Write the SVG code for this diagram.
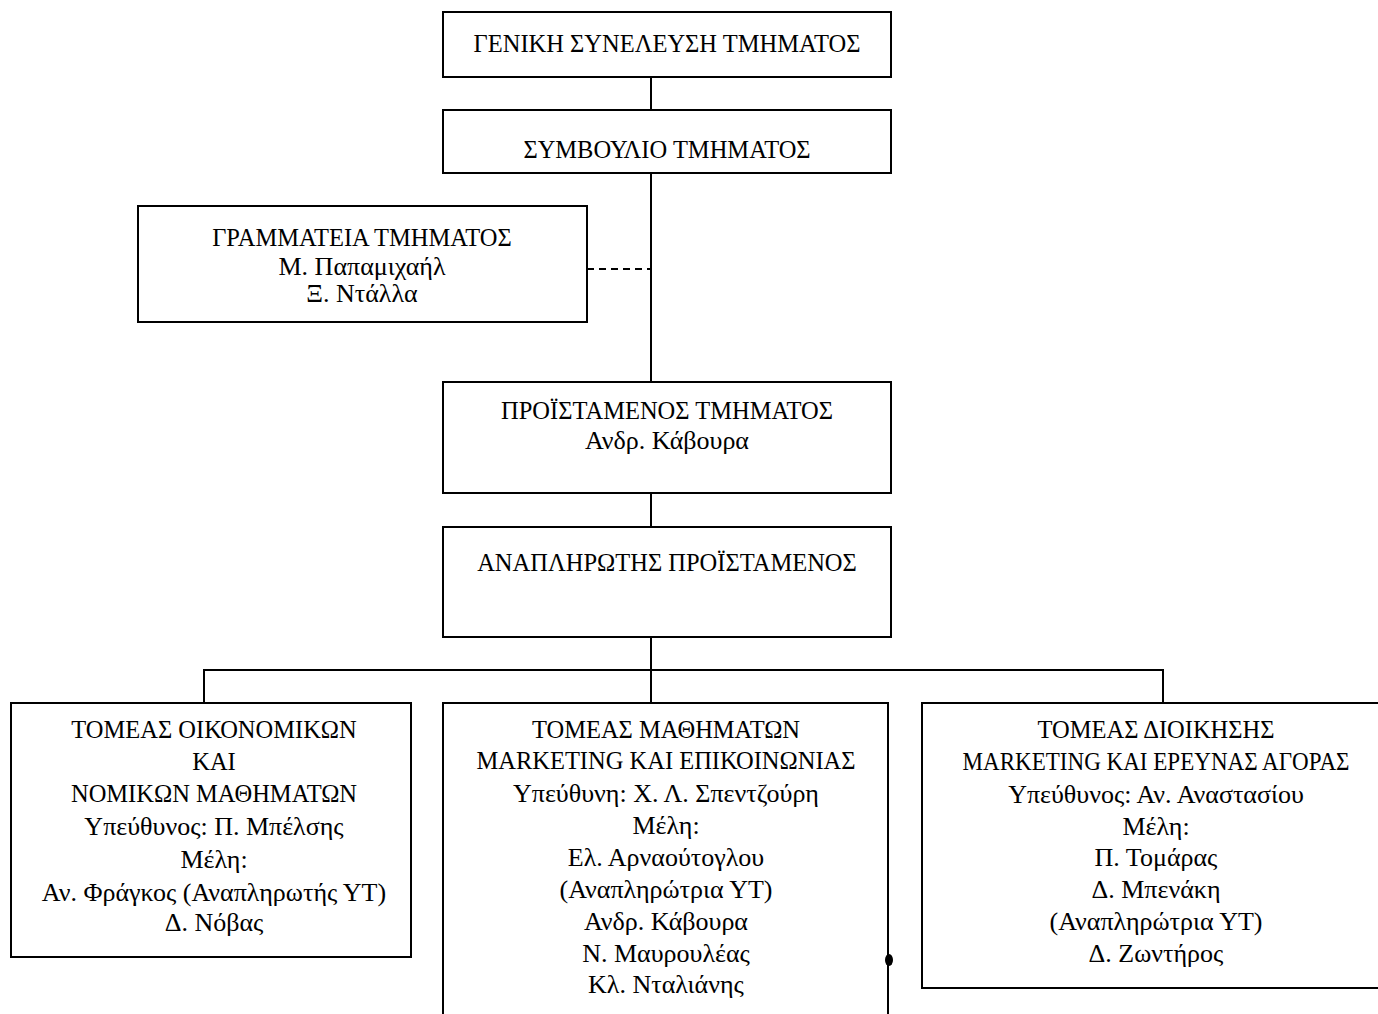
<svg xmlns="http://www.w3.org/2000/svg" width="1378" height="1014" viewBox="0 0 1378 1014">
<style>
.box{fill:#fff;stroke:#000;stroke-width:2}
.ln{fill:none;stroke:#000;stroke-width:2}
.dash{fill:none;stroke:#000;stroke-width:2;stroke-dasharray:7,5}
text{font-family:"Liberation Serif","Times New Roman",serif;font-size:24.5px;fill:#000;text-anchor:middle}
.lc{font-size:26px}
</style>
<rect width="1378" height="1014" fill="#fff"/>
<g id="connectors">
<line class="ln" x1="651" y1="77" x2="651" y2="110"/>
<line class="ln" x1="651" y1="173" x2="651" y2="382"/>
<line class="dash" x1="587" y1="269" x2="651" y2="269"/>
<line class="ln" x1="651" y1="493" x2="651" y2="527"/>
<line class="ln" x1="651" y1="637" x2="651" y2="703"/>
<polyline class="ln" points="204,703 204,670 1163,670 1163,703"/>
</g>
<g id="n1">
<rect class="box" x="443" y="12" width="448" height="65"/>
<text x="667" y="52">ΓΕΝΙΚΗ ΣΥΝΕΛΕΥΣΗ ΤΜΗΜΑΤΟΣ</text>
</g>
<g id="n2">
<rect class="box" x="443" y="110" width="448" height="63"/>
<text x="667" y="158">ΣΥΜΒΟΥΛΙΟ ΤΜΗΜΑΤΟΣ</text>
</g>
<g id="n3">
<rect class="box" x="138" y="206" width="449" height="116"/>
<text x="362" y="246">ΓΡΑΜΜΑΤΕΙΑ ΤΜΗΜΑΤΟΣ</text>
<text class="lc" x="362" y="275">Μ. Παπαμιχαήλ</text>
<text class="lc" x="362" y="302">Ξ. Ντάλλα</text>
</g>
<g id="n4">
<rect class="box" x="443" y="382" width="448" height="111"/>
<text x="667" y="419">ΠΡΟΪΣΤΑΜΕΝΟΣ ΤΜΗΜΑΤΟΣ</text>
<text class="lc" x="667" y="449">Ανδρ. Κάβουρα</text>
</g>
<g id="n5">
<rect class="box" x="443" y="527" width="448" height="110"/>
<text x="667" y="571">ΑΝΑΠΛΗΡΩΤΗΣ ΠΡΟΪΣΤΑΜΕΝΟΣ</text>
</g>
<g id="n6">
<rect class="box" x="11" y="703" width="400" height="254"/>
<text x="214" y="738">ΤΟΜΕΑΣ ΟΙΚΟΝΟΜΙΚΩΝ</text>
<text x="214" y="770">ΚΑΙ</text>
<text x="214" y="802">ΝΟΜΙΚΩΝ ΜΑΘΗΜΑΤΩΝ</text>
<text class="lc" x="214" y="835">Υπεύθυνος: Π. Μπέλσης</text>
<text class="lc" x="214" y="868">Μέλη:</text>
<text class="lc" x="214" y="901">Αν. Φράγκος (Αναπληρωτής ΥΤ)</text>
<text class="lc" x="214" y="931">Δ. Νόβας</text>
</g>
<g id="n7">
<rect class="box" x="443" y="703" width="445" height="330"/>
<ellipse cx="889" cy="960" rx="4" ry="6" fill="#000"/>
<text x="666" y="738">ΤΟΜΕΑΣ ΜΑΘΗΜΑΤΩΝ</text>
<text x="666" y="769">MARKETING ΚΑΙ ΕΠΙΚΟΙΝΩΝΙΑΣ</text>
<text class="lc" x="666" y="802">Υπεύθυνη: Χ. Λ. Σπεντζούρη</text>
<text class="lc" x="666" y="834">Μέλη:</text>
<text class="lc" x="666" y="866">Ελ. Αρναούτογλου</text>
<text class="lc" x="666" y="898">(Αναπληρώτρια ΥΤ)</text>
<text class="lc" x="666" y="930">Ανδρ. Κάβουρα</text>
<text class="lc" x="666" y="962">Ν. Μαυρουλέας</text>
<text class="lc" x="666" y="993">Κλ. Νταλιάνης</text>
</g>
<g id="n8">
<rect class="box" x="922" y="703" width="470" height="285"/>
<text x="1156" y="738">ΤΟΜΕΑΣ ΔΙΟΙΚΗΣΗΣ</text>
<text x="1156" y="770" textLength="387" lengthAdjust="spacingAndGlyphs">MARKETING ΚΑΙ ΕΡΕΥΝΑΣ ΑΓΟΡΑΣ</text>
<text class="lc" x="1156" y="803">Υπεύθυνος: Αν. Αναστασίου</text>
<text class="lc" x="1156" y="835">Μέλη:</text>
<text class="lc" x="1156" y="866">Π. Τομάρας</text>
<text class="lc" x="1156" y="898">Δ. Μπενάκη</text>
<text class="lc" x="1156" y="930">(Αναπληρώτρια ΥΤ)</text>
<text class="lc" x="1156" y="962">Δ. Ζωντήρος</text>
</g>
</svg>
